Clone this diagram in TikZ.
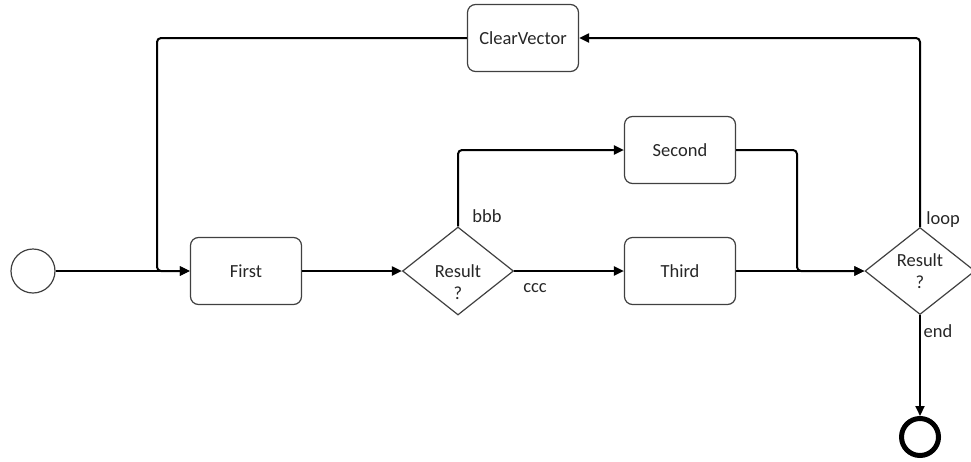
\documentclass[tikz,border=0pt]{standalone}
\usepackage{fontspec}
\setmainfont{Carlito}
\usetikzlibrary{shapes.geometric,arrows.meta}
\begin{document}
\begin{tikzpicture}[x=1pt,y=-1pt,
  font=\fontsize{18.5}{22}\selectfont,
  taskbox/.style={draw=black!75, line width=1.2pt, rounded corners=8pt,
    rectangle, inner sep=0pt, minimum width=111pt, minimum height=67pt, text=black!85},
  decision/.style={draw=black!75, line width=1.2pt, diamond, inner sep=0pt,
    minimum width=111pt, minimum height=88pt},
  flow/.style={draw=black, line width=2pt, rounded corners=4pt,
    -{Triangle[length=10pt,width=9pt]}},
  tag/.style={text=black!85, inner sep=0pt}
]
\useasboundingbox (0,0) rectangle (971,461);

% events
\node (start) [circle, draw=black!75, line width=1.2pt, minimum size=44pt, inner sep=0pt] at (33,271) {};
\node (stop) [circle, draw=black, line width=5pt, minimum size=37pt, inner sep=0pt] at (920,437) {};

% tasks
\node (first)  [taskbox] at (246,271) {First};
\node (second) [taskbox] at (680,150) {Second};
\node (third)  [taskbox] at (680,271) {Third};
\node (clear)  [taskbox] at (523,38)  {ClearVector};

% gateways
\node (g1) [decision] at (458,271) {};
\node (g1t) [tag, align=center] at (458,282) {Result\\?};
\node (g2) [decision, minimum width=110pt, minimum height=87pt] at (920,271) {};
\node (g2t) [tag, align=center] at (920,271) {Result\\?};

% helper points for the routed connectors
\coordinate (loopL) at (157,38);
\coordinate (loopB) at (157,271);
\coordinate (joinTop) at (797,150);
\coordinate (joinBot) at (797,271);

% connectors
\draw[flow] (start.east) -- (first.west);
\draw[flow] (clear.west) -- (loopL) -- (loopB) -- (first.west);
\draw[flow] (first.east) -- (g1.west);
\draw[flow] (g1.north) |- (second.west);
\draw[flow] (g1.east) -- (third.west);
\draw[flow] (second.east) -- (joinTop) -- (joinBot) -- (g2.west);
\draw[flow] (third.east) -- (g2.west);
\draw[flow] (g2.north) |- (clear.east);
\draw[flow] (g2.south) -- (stop.north);

% branch labels
\node (bbb)  [tag] at (487,216) {bbb};
\node (ccc)  [tag] at (535,288) {ccc};
\node (loop) [tag] at (943,220) {loop};
\node (endl) [tag] at (938,331) {end};
\end{tikzpicture}
\end{document}
